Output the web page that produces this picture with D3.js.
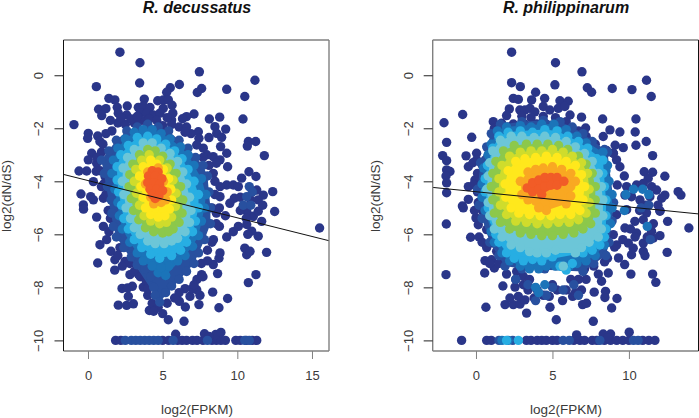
<!DOCTYPE html>
<html>
<head>
<meta charset="utf-8">
<script src="https://cdn.jsdelivr.net/npm/d3@7"></script>
<style>
  html, body { margin: 0; padding: 0; background: #fff; }
  svg { display: block; }
  text { font-family: "Liberation Sans", Arial, sans-serif; fill: #3a3a3a; }
</style>
</head>
<body>
<div id="chart"></div>
<script>
// density colour classes, low to high
const bandColors = ['#2a3689', '#28509f', '#1b74b9', '#27aee3', '#6cc6d8', '#8cc84b', '#cfdc2c', '#ffe81c', '#f9a822', '#f15c27'];
const xTicksLeft = [0, 5, 10, 15];
const xTicksRight = [0, 5, 10];
const yTicks = [0, -2, -4, -6, -8, -10];

// R. decussatus as [log2(FPKM), log2(dN/dS)]
const decNavy = [[2.14,.87],[3.48,.47],[7.46,.13],[11.18,-.19],[.56,-.43],[3.46,-.29],[6.12,-.35],[5.51,-.47],[5.27,-.64],[7.61,-.5],[7.32,-.65],[9.29,-.53],[10.5,-.8],[1.4,-.87],[1.8,-.93],[3.77,-.9],[4.67,-.96],[5.04,-.93],[5.38,-.93],[5.63,-1.13],[.71,-1.28],[1.2,-1.26],[.92,-1.52],[1.96,-1.21],[2.63,-1.16],[2.03,-1.43],[2.59,-1.5],[3.37,-1.21],[3.7,-1.16],[4.15,-1.21],[3.5,-1.41],[3.93,-1.43],[4.38,-1.5],[5.04,-1.25],[4.82,-1.43],[5.68,-1.43],[5.6,-1.69],[7.1,-1.46],[6.6,-1.56],[6.33,-1.64],[8.13,-1.65],[8.82,-1.58],[10.38,-1.65],[-.94,-1.86],[2.0,-1.8],[2.5,-1.85],[3.1,-1.8],[3.6,-1.7],[4.1,-1.65],[5,-1.9],[5.6,-1.85],[6.1,-1.95],[1.6,-2.1],
[7.39,-2.13],[7.43,-2.38],[8.5,-1.94],[9.22,-2.03],[8.62,-2.19],[8.95,-2.34],[10.74,-2.5],[11.23,-2.5],[10.67,-2.67],[8.88,-2.69],[11.81,-3.03],[9.29,-2.94],[8.39,-3.07],[7.95,-3],[9.35,-3.45],[8.84,-3.19],[10.78,-3.64],[11.25,-3.82],[10.29,-3.88],[9.29,-4.14],[9.73,-4.14],[10.07,-4.2],[12.37,-4.39],[11.74,-4.52],[11.3,-4.33],[9.8,-4.64],[9.5,-4.83],[8.84,-4.58],[8.84,-4.2],[8.39,-3.7],[8.6,-3.32],[7.72,-2.75],[7.28,-2.63],
[.02,-2.19],[-.02,-2.38],[.65,-2.29],[.8,-2.5],[.25,-2.94],[.02,-3.19],[-.6,-3.61],[-.09,-3.61],[.58,-3.32],[.36,-4.01],[-.47,-4.48],[.18,-4.58],[.36,-4.7],[1.03,-4.64],[-.31,-4.89],[1.14,-3.82],[.55,-3.62],[1.0,-2.6],[1.05,-4.1],
[15.51,-5.76],[11.96,-6.68],[12.5,-5.14],[.65,-7.08],[.8,-6.39],[1.79,-7.35],[10.74,-7.82],[11.25,-7.52],[2.03,-8.67],[2.59,-8.68],[3.04,-8.62],[2.28,-8.04],[2.97,-7.96],[2.7,-8.34],[2.65,-8.02],[8.35,-8.18],[9.35,-8.42],[8.77,-8.77],[7.43,-8.65],[6.52,-8.74],[6.12,-8.53],[4.11,-8.87],[5,-8.99],[5.38,-9.22],[6.43,-9.28],[3.7,-7.99],[7.5,-8.3],[7.28,-8.09],[6.83,-8.34],[8.68,-7.48],[8.39,-7.14],[8.77,-6.9],[8.84,-6.7],[10.63,-6.77],[10.5,-6.52],[10.85,-6.64],[9.29,-6.1],[9.73,-5.9],[10.07,-5.7],[11.4,-6.07],[10.96,-5.88],[10.63,-5.63],[11.07,-5.32],[11.63,-5.51],[10.63,-5.13],[11.4,-5.13],[9.2,-5.3],[8.8,-5.7],[1.03,-5.7],[.58,-5.35],[-.3,-5.05],[1.54,-6.64],[1.8,-6.96],[2.48,-7.02],[2.81,-7.52],[3.37,-7.5],[3.93,-7.46],[7.61,-7.52],[1.25,-6.2],[2.14,-6.5],[4.0,-8.3],[4.3,-8.6],[4.7,-8.75],[7.0,-8.05],[7.3,-7.7],[7.6,-7.1],[8,-6.6],[8.4,-6.2],[8.6,-5.2],
[1.85,-10],[2.2,-10],[5,-10],[5.4,-10],[6,-10],[6.3,-10],[6.6,-10],[7,-10],[7.3,-10],[7.7,-10],[8.3,-10],[8.6,-10],[8.9,-10],[9.2,-10],[9.9,-10],[10.2,-10],[10.6,-10],[11,-10],[11.3,-10],[5.87,-9.77],[7.8,-9.75],[8.55,-9.78],[8.9,-9.7],[8.1,-9.85]];
const decNavyMore = [[1.5,-1.7],[2.2,-1.6],[2.9,-1.65],[3.3,-1.55],[4.6,-1.7],[5.3,-1.6],[6.6,-1.95],[6.9,-2.2],[6.5,-2.15],[8.1,-2.35],[7.7,-3.1],[8.1,-3.4],[8.5,-4],[8.5,-4.5],[8.3,-5],[8.8,-5],[8.6,-5.6],[8.3,-6.3],[8,-7],[7.7,-7.6],[7.1,-7.9],[6.5,-8.05],[6.1,-8.2],[5.8,-8.4],[5.3,-8.6],[4.4,-8.9],[1.2,-2.2],[.9,-2.9],[.6,-3.1],[.8,-3.6],[.9,-4.2],[1.2,-4.5],[1.35,-5.1],[1.5,-5.4],[1.4,-5.9],[2,-6.8],[2.3,-7.2],[2.8,-7.1],[3.1,-7.4],[3.5,-7.6],[3.9,-7.75],[4,-8.05],[10.2,-4.6],[10.2,-5.1],[10.9,-4.7],[11.4,-4.7],[11.7,-4.9],[10.6,-5.4],[10.7,-6]];
const decBlue1Spots = [[10.8,-4.2],[10.63,-4.58],[11,-4.4],[10.4,-4.9],[10.9,-4.9],[2.5,-10],[2.9,-10],[3.2,-10],[3.5,-10],[3.8,-10],[4.1,-10],[4.4,-10],[4.7,-10],[5.7,-10],[8,-10],[10.5,-10],[10.8,-10]];
const decBlue1 = [[2.6,-2.1],[3.3,-1.95],[4,-1.85],[4.7,-1.95],[5.4,-2.1],[1.9,-2.45],[6.1,-2.45],[1.4,-2.85],[6.7,-2.75],[.9,-3.2],[7.2,-3.1],[1.1,-3.7],[1.3,-4.2],[1.55,-4.7],[1.6,-5.2],[1.7,-5.7],[1.9,-6.1],[2.4,-6.5],[2.9,-6.85],[3.3,-7.15],[3.8,-7.3],[4.2,-7.6],[4.4,-8],[4.5,-8.3],[4.8,-8.55],[5.2,-8.2],[5.6,-7.95],[6.1,-7.7],[6.6,-7.4],[7.1,-7.1],[7.4,-6.7],[7.8,-6.2],[8.2,-5.6],[8.2,-5],[8.1,-4.4],[8,-3.8],[7.7,-3.4]];
const decBlue2 = [[3.1,-2.15],[3.7,-2.05],[4.3,-2.05],[4.9,-2.2],[5.5,-2.4],[2.5,-2.4],[6.2,-2.7],[2,-2.75],[6.7,-3],[1.7,-3.2],[7.1,-3.4],[1.6,-3.7],[7.6,-3.9],[1.8,-4.3],[7.9,-4.5],[2,-4.8],[7.8,-5],[2.1,-5.3],[7.6,-5.5],[2.3,-5.8],[7.4,-6.05],[2.8,-6.3],[7,-6.45],[3.3,-6.7],[6.5,-6.8],[3.7,-7],[6,-7],[4.3,-7.2],[5.4,-7.2],[4.7,-7.45],[5.2,-7.55],[4.9,-7.25]];
const decCyan = [[3.3,-2.35],[4,-2.3],[4.6,-2.4],[5.2,-2.6],[2.7,-2.65],[5.8,-2.85],[2.2,-3],[6.3,-3.15],[1.95,-3.45],[6.7,-3.55],[1.95,-3.95],[7.1,-4],[2.05,-4.4],[7.4,-4.5],[2.25,-4.9],[7.4,-5],[2.4,-5.4],[7.2,-5.5],[2.7,-5.8],[7,-5.9],[3.1,-6.2],[6.6,-6.3],[3.6,-6.5],[6.2,-6.6],[4.2,-6.75],[5.6,-6.8],[4.8,-6.9]];
const decTeal = [[3.7,-2.55],[4.3,-2.55],[4.9,-2.75],[3.1,-2.8],[5.5,-2.95],[2.65,-3.1],[6,-3.25],[2.35,-3.5],[6.35,-3.65],[2.3,-4],[6.6,-4.1],[2.4,-4.5],[6.8,-4.6],[2.55,-5],[6.9,-5.1],[2.85,-5.4],[6.8,-5.55],[3.1,-5.75],[6.5,-5.9],[3.5,-6],[6,-6.15],[4,-6.25],[4.5,-6.35],[5.1,-6.35],[5.6,-6.25]];
const decGreen = [[4,-2.8],[4.5,-2.85],[3.45,-3],[5,-3.05],[3,-3.35],[5.5,-3.35],[2.8,-3.75],[5.9,-3.7],[2.75,-4.2],[6.2,-4.2],[2.9,-4.65],[6.35,-4.7],[3.05,-5.1],[6.3,-5.2],[3.4,-5.45],[6.1,-5.55],[3.85,-5.75],[5.7,-5.8],[4.4,-5.9],[5,-5.95],[5.4,-5.9]];
const decLime = [[4.1,-3],[3.6,-3.2],[4.8,-3.2],[3.2,-3.55],[5.3,-3.5],[3.1,-4],[5.7,-3.95],[3.25,-4.45],[5.9,-4.45],[3.45,-4.9],[5.85,-4.95],[3.75,-5.3],[5.6,-5.35],[4.2,-5.5],[4.8,-5.6],[5.25,-5.55]];
const decYellow = [[4.2,-3.2],[3.7,-3.45],[4.6,-3.35],[5.05,-3.55],[3.45,-3.8],[5.4,-3.9],[3.55,-4.2],[5.55,-4.3],[3.7,-4.6],[5.6,-4.7],[3.85,-5],[5.45,-5.05],[4.2,-5.25],[4.7,-5.35],[5.15,-5.3],[4.5,-5],[5,-5]];
const decOrange = [[4,-3.65],[3.85,-4.1],[5.05,-4],[5.3,-4.4],[5.2,-4.7],[4.9,-4.8],[4.4,-4.85],[4.2,-4.6],[4.7,-3.5]];
const decRed = [[4.3,-3.6],[4.7,-3.65],[4.05,-3.8],[4.5,-3.8],[4.95,-3.9],[4,-4.05],[4.4,-4.05],[4.8,-4.1],[4.15,-4.3],[4.6,-4.3],[5,-4.35],[4.3,-4.5],[4.75,-4.55],[4.5,-4.65]];
const decFit = [[-1.64,-3.74],[16.14,-6.24]];

// R. philippinarum
const phiNavy = [[2.33,.87],[5.2,.47],[6.93,.13],[11.15,-.19],[2.33,-.28],[2.9,-.43],[5.16,-.36],[7.28,-.47],[7.56,-.64],[8.91,-.5],[10.2,-.54],[11.46,-.8],[3.9,-.64],[2.44,-.87],[2.77,-.91],[3.64,-.93],[4.49,-.87],[5.49,-.96],[6.03,-.98],[2.18,-1.27],[2,-1.52],[-.87,-1.48],[-2.09,-1.79],[2.87,-1.31],[3.2,-1.31],[3.53,-1.25],[3.85,-1.38],[4.4,-1.18],[4.83,-1.31],[5.38,-1.25],[5.81,-1.18],[6.15,-1.5],[6.9,-1.58],[8.28,-1.65],[10.46,-1.65],[1.13,-1.75],[1.68,-1.81],[2.44,-1.84],[3.96,-1.84],[4.94,-1.88],[5.7,-1.81],[3,-1.55],[3.6,-1.6],[4.4,-1.55],[5.2,-1.6],[5.9,-1.75],
[7.17,-1.99],[8.76,-2.06],[9.41,-2.14],[10.41,-2.14],[8.32,-2.31],[-.28,-2.34],[-1.92,-2.53],[11.13,-2.5],[10.46,-2.64],[9.1,-2.64],[9.63,-2.73],[8.54,-2.84],[8.98,-2.94],[11.55,-3.03],[-2.18,-3.03],[-.65,-3.04],[.04,-2.94],[-1.92,-3.22],[.04,-3.19],[-.5,-3.45],[.44,-3.42],[-1.92,-3.57],[-1.7,-3.63],[-1.96,-3.8],[-1.92,-4.06],[-1.92,-4.43],
[-.5,-4.68],[.15,-4.8],[-.89,-4.93],[.59,-4.39],[-.07,-3.95],[.26,-3.95],[-.5,-4.2],[-.15,-4.13],[9.7,-3.8],[9.24,-4.14],[11,-3.64],[11.55,-3.66],[12.35,-3.81],[11.26,-3.89],[13.22,-4.39],[13.4,-4.52],[12.35,-4.52],[12.03,-5.11],[9.85,-4.2],[10.5,-4.14],[10.94,-4.08],[11.48,-4.2],[11.81,-4.33],[12.14,-4.64],[10.17,-4.58],[10.72,-4.7],[11.37,-4.58],[9.74,-4.52],[9.41,-3.45],[9.19,-3.19],[8.98,-2.94],
[-1.94,-5.61],[-1.96,-7.52],[-.35,-6.11],[.57,-7.46],[.65,-8.75],[1.76,-7.95],[2.55,-7.99],[1.9,-8.65],[2.44,-8.65],[2.88,-8.63],[2.22,-8.4],[2.77,-8.34],[3.2,-8.47],[3.31,-8.97],[4.84,-8.75],[5.25,-9.22],[7.67,-9.28],[6.97,-8.65],[7.23,-8.6],[8.87,-8.78],[9.22,-8.42],[8.47,-8.15],[8.43,-8.38],[7.73,-8.18],[6.32,-8.34],[5.66,-8.5],[4.79,-8.34],[10.13,-7.5],[11.55,-7.5],[11.76,-7.81],[12.5,-6.68],[12.53,-5.51],[13.92,-5.76],[9.06,-6.48],[9.32,-6.89],[9.72,-7.14],[8.41,-7.04],[8,-7.5],[8.21,-7.77],[8.65,-7.46],[9.96,-6.33],[10.28,-6.52],[10.17,-6.77],[10.94,-6.64],[11.05,-6.8],[10.94,-6.33],[11.48,-5.89],[12.03,-6.05],[11.59,-6.14],[9.74,-5.76],[10.39,-5.51],[10.94,-5.45],[11.15,-5.19],[12.03,-5.13],[10.5,-5.95],[8.98,-6.01],[9.19,-5.26],[9.85,-5.07],[1.13,-6.33],[.15,-5.64],[0,-5.38],[.7,-5.82],[1.35,-6.64],[.59,-6.99],[1.02,-6.96],[1.2,-7.27],[3.09,-7.58],[2.66,-7.4],[.44,-5.13],[-.83,-5],[3.4,-8.1],[3.8,-8.4],[6.9,-8.1],[7.2,-7.7],[6.7,-7.7],[5.9,-8.1],
[-.94,-10],[.7,-10],[1,-10],[3.3,-10],[3.6,-10],[4,-10],[4.3,-10],[4.6,-10],[5,-10],[5.3,-10],[6.4,-10],[6.8,-10],[7.1,-10],[7.6,-10],[7.9,-10],[8.4,-10],[8.8,-10],[9.2,-10],[9.6,-10],[10,-10],[10.9,-10],[11.3,-10],[11.7,-10],[6.58,-9.79],[8.32,-9.76],[8.8,-9.76],[10.02,-9.69],[8.6,-9.9]];
const phiNavyMore = [[1.2,-2],[1.5,-2.05],[2.1,-1.95],[3.2,-1.85],[4.6,-1.85],[5.5,-2],[6.1,-2.1],[6.7,-2.1],[7.2,-2.3],[7.8,-2.6],[8.3,-3.2],[2,-7.5],[2.6,-7.7],[3.1,-7.9],[3.5,-7.7],[4,-8.1],[4.4,-8.3],[5,-7.9],[5.3,-8.1],[6.2,-7.7],[6.5,-8.2],[7.1,-7.3],[7.7,-7.2],[8.6,-6.9],[9.2,-6.4],[10.1,-5.8],[10.7,-5.1],[11.2,-6.1],[11.6,-5.6],[10.4,-6.1],[11.9,-4.9],[11.1,-4.9],[9.6,-6.2],[.2,-6.1],[.4,-6.3],[.7,-6.5],[1.5,-7.1],[.9,-7.1],[-.1,-5.1],[.5,-4.7],[.1,-4.4],[.3,-3.9],[-.2,-3.3],[.1,-3.7],[.6,-3.2]];
const phiBlue1Spots = [[10.8,-5],[11.3,-4.9],[11.4,-6.2],[6.4,-7.9],[6.7,-8.3],[5.7,-8.1],[5,-8],[4.6,-8.3],[3.9,-8.5],[3.4,-7.9],[2.6,-7.7],[1.5,-10],[2.4,-10],[5.7,-10],[6.1,-10],[8.1,-10],[10.3,-10],[10.6,-10]];
const phiBlue2Spots = [[3.9,-8],[4.5,-7.9],[4.1,-8.2],[10.3,-4.3],[10.9,-4.3],[11.3,-4.5],[9.8,-4.5],[9.7,-5.1],[11.2,-5.7],[1.7,-10],[2.1,-10]];
const phiCyanSpots = [[2,-10],[2.77,-10]];
const phiCyanLobe = [[5.5,-7.2],[5.9,-7.35],[6.3,-7.1]];
const phiTealLobe = [[5.71,-7.2]];
const phiBlue1 = [[1.6,-1.85],[3,-1.75],[4.4,-1.7],[5.5,-1.75],[6.3,-1.95],[7,-2.2],[7.6,-2.5],[8.4,-2.8],[8.6,-2.9],[1,-2.2],[.7,-2.7],[.3,-3.3],[.1,-4.3],[.2,-4.9],[.4,-5.4],[9,-4.8],[8.9,-5.5],[8.7,-6.3],[8.5,-6.8],[7.7,-7.1],[7,-7.4],[.9,-6.3],[1.5,-6.8],[1.9,-7.2],[3,-7.3],[4.5,-7.3],[6,-7.2]];
const phiBlue2 = [[1.4,-2.1],[2,-1.95],[2.9,-1.9],[3.6,-1.95],[4.3,-1.85],[5.1,-1.85],[5.9,-2.05],[6.6,-2.3],[7.2,-2.55],[7.8,-2.95],[8.3,-2.9],[8.6,-3.4],[8.5,-3.6],[1,-2.6],[.8,-3],[.5,-3.5],[.4,-4.1],[.4,-4.6],[8.7,-4],[8.9,-4.5],[8.9,-5],[8.8,-5.6],[.6,-5.1],[1,-5.9],[1.2,-6.3],[1.7,-6.7],[2.2,-7],[2.9,-7.2],[3.5,-7.3],[4.1,-7.3],[4.6,-7.2],[5.2,-7.2],[5.6,-7.2],[6.1,-7.2],[6.6,-7.1],[7.2,-7],[7.8,-6.8],[8.4,-6.4]];
const phiCyan = [[1.5,-2.3],[2.1,-2.15],[2.9,-2.1],[3.7,-2.15],[4.5,-2.05],[5.3,-2.1],[6,-2.3],[6.7,-2.5],[7.3,-2.75],[7.9,-3.15],[8.3,-3.2],[1.1,-2.75],[.75,-3.4],[8.3,-3.7],[.6,-3.9],[8.4,-4.2],[.6,-4.4],[8.5,-4.7],[.8,-5],[8.5,-5.3],[1.2,-5.5],[8.5,-5.8],[1.3,-6],[8.4,-6.1],[1.5,-6.3],[8.1,-6.4],[2,-6.7],[7.6,-6.6],[2.5,-6.9],[7,-6.7],[3.1,-7],[3.7,-6.95],[4.3,-7],[5,-6.85]];
const phiTeal = [[1.6,-2.45],[2.3,-2.3],[3,-2.3],[3.8,-2.35],[4.5,-2.3],[5.2,-2.35],[5.9,-2.5],[6.5,-2.7],[7.1,-2.95],[1.1,-2.85],[7.6,-3.25],[.9,-3.3],[8,-3.7],[.8,-3.8],[8.2,-4.2],[.7,-4.3],[8.3,-4.7],[.8,-4.8],[8.3,-5.3],[.9,-5.3],[8.2,-5.8],[1.2,-5.8],[8,-6.1],[1.7,-6.1],[7.4,-6.3],[2.3,-6.4],[6.9,-6.5],[2.9,-6.5],[3.5,-6.65],[4,-6.7],[4.6,-6.7],[5.2,-6.6],[6.5,-6.7]];
const phiGreen = [[1.8,-2.85],[2.5,-2.65],[3.3,-2.6],[4,-2.6],[4.7,-2.6],[5.4,-2.65],[6,-2.8],[6.7,-3.05],[7.2,-3.35],[1.3,-3.25],[7.6,-3.7],[1.1,-3.7],[7.8,-4.2],[1,-4.2],[7.8,-4.7],[1.1,-4.7],[7.8,-5.2],[1.2,-5.2],[7.5,-5.6],[1.6,-5.55],[2.2,-5.8],[7,-5.8],[2.9,-5.95],[3.6,-6],[4.3,-6.05],[5,-6.05],[5.7,-6],[6.4,-5.95]];
const phiLime = [[2.2,-3.05],[2.9,-2.9],[3.6,-2.85],[4.3,-2.85],[5,-2.8],[5.7,-2.9],[6.3,-3.05],[6.9,-3.3],[1.7,-3.4],[7.3,-3.7],[1.5,-3.9],[7.4,-4.3],[1.5,-4.4],[7.4,-4.8],[1.6,-4.9],[7.2,-5.2],[2,-5.25],[6.7,-5.45],[2.6,-5.5],[3.3,-5.55],[4,-5.6],[4.7,-5.6],[5.4,-5.55],[6.1,-5.55]];
const phiYellow = [[2.6,-3.25],[3.2,-3.15],[3.9,-3.1],[4.6,-3.05],[5.3,-3.1],[5.9,-3.25],[6.5,-3.4],[2.1,-3.6],[6.9,-3.75],[1.9,-4.1],[7.1,-4.2],[1.95,-4.6],[7,-4.7],[2.3,-5],[6.8,-5.1],[2.8,-5.2],[3.5,-5.25],[4.2,-5.3],[4.9,-5.3],[5.5,-5.25],[6.2,-5.25]];
const phiOrange = [[2.9,-4],[3,-4.5],[3.4,-3.65],[3.4,-4.7],[3.9,-3.55],[3.9,-4.75],[4.4,-3.5],[4.5,-4.8],[5,-3.45],[5,-4.6],[5.6,-3.55],[5.5,-4.5],[6.2,-3.7],[6.2,-4.2],[6.5,-4],[6.2,-4.55],[5.9,-4.85],[4.6,-5.1],[4.1,-5]];
const phiRed = [[3.35,-4.25],[3.7,-4.05],[3.7,-4.4],[4.1,-3.95],[4.1,-4.3],[4.5,-3.85],[4.5,-4.2],[4.9,-3.85],[4.9,-4.15],[5.3,-3.85],[5.3,-4.15],[5.75,-4],[4.3,-4.5]];
const phiFit = [[-2.83,-4.23],[14.55,-5.23]];

const decBands = [[], decBlue1, decBlue2, decCyan, decTeal, decGreen, decLime, decYellow, decOrange, decRed];
const phiBands = [[], phiBlue1, phiBlue2, phiCyan, phiTeal, phiGreen, phiLime, phiYellow, phiOrange, phiRed];
// loose points outside the main blob: [points, colour class]
const decSpots = [[decNavy, 0], [decNavyMore, 0], [decBlue1Spots, 1]];
const phiSpots = [[phiNavy, 0], [phiNavyMore, 0], [phiBlue1Spots, 1], [phiBlue2Spots, 2], [phiCyanSpots, 3]];
// lobes below the blob, drawn after the bands
const phiLobes = [[phiCyanLobe, 3], [phiTealLobe, 4]];

const width = 699, height = 418;
const pointRadius = 4.7;
const svg = d3.select('#chart').append('svg').attr('width', width).attr('height', height);

function drawPanel(opts) {
  const x = d3.scaleLinear().domain(opts.xDomain).range([opts.left, opts.right]);
  const y = d3.scaleLinear().domain([-10.4, 1.33]).range([351, 40]);
  const g = svg.append('g');
  const dots = (pts, col) => g.append('g').selectAll('circle').data(pts).join('circle')
    .attr('cx', d => x(d[0]))
    .attr('cy', d => y(d[1]))
    .attr('r', pointRadius)
    .attr('fill', col);

  opts.spots.forEach(s => dots(s[0], bandColors[s[1]]));

  // each band is a ring of outer points, the hull closes the gaps inside it
  opts.bands.forEach((pts, i) => {
    if (!pts.length) return;
    const hull = d3.polygonHull(pts.map(d => [x(d[0]), y(d[1])]));
    g.append('path')
      .attr('d', 'M' + hull.join('L') + 'Z')
      .attr('fill', bandColors[i]);
    dots(pts, bandColors[i]);
  });

  (opts.lobes || []).forEach(s => dots(s[0], bandColors[s[1]]));

  g.append('line')
    .attr('x1', x(opts.fit[0][0])).attr('y1', y(opts.fit[0][1]))
    .attr('x2', x(opts.fit[1][0])).attr('y2', y(opts.fit[1][1]))
    .attr('stroke', '#111').attr('stroke-width', 1);

  // box: the scan leaves some sides grey and one side thin black
  const gray = '#808080';
  const side = (x1, y1, x2, y2, col, w) => g.append('line')
    .attr('x1', x1).attr('y1', y1).attr('x2', x2).attr('y2', y2)
    .attr('stroke', col).attr('stroke-width', w);
  side(opts.left, 40, opts.right, 40, gray, 1.4);
  side(opts.left, 351, opts.right, 351, gray, 1.4);
  side(opts.left, 40, opts.left, 351, opts.leftCol, opts.leftCol === gray ? 1.4 : 1);
  side(opts.right, 40, opts.right, 351, opts.rightCol, opts.rightCol === gray ? 1.4 : 1);

  const xAxis = g.append('g').attr('transform', 'translate(0,351)')
    .call(d3.axisBottom(x).tickValues(opts.xTicks).tickSize(8).tickPadding(12));
  xAxis.select('.domain').remove();
  xAxis.selectAll('line').attr('stroke', gray);
  xAxis.selectAll('text').style('font-size', '13px').style('fill', '#3a3a3a');

  const yAxis = g.append('g').attr('transform', `translate(${opts.left},0)`)
    .call(d3.axisLeft(y).tickValues(yTicks).tickSize(9));
  yAxis.select('.domain').remove();
  yAxis.selectAll('line').attr('stroke', '#222');
  // rotated like R's default axis labels; each text sits inside its tick group
  yAxis.selectAll('text')
    .style('font-size', '13px').style('fill', '#3a3a3a')
    .attr('x', 0).attr('dy', 0)
    .attr('text-anchor', 'middle')
    .attr('transform', `translate(${opts.yTickX - opts.left},0) rotate(-90)`);

  g.append('text').attr('x', opts.titleX).attr('y', 13)
    .attr('text-anchor', 'middle')
    .style('font-size', '16px').style('font-weight', 'bold').style('font-style', 'italic')
    .style('fill', '#111')
    .text(opts.title);
  g.append('text').attr('x', opts.titleX).attr('y', 414)
    .attr('text-anchor', 'middle').style('font-size', '13.5px')
    .text('log2(FPKM)');
  g.append('text')
    .attr('transform', `translate(${opts.yLabelX},196) rotate(-90)`)
    .attr('text-anchor', 'middle').style('font-size', '13.5px')
    .text('log2(dN/dS)');
}

drawPanel({
  title: 'R. decussatus', titleX: 197, bands: decBands, spots: decSpots, fit: decFit,
  xDomain: [-1.64, 16.14], left: 63.5, right: 329, xTicks: xTicksLeft,
  leftCol: '#111', rightCol: '#808080', yTickX: 43.4, yLabelX: 11
});
drawPanel({
  title: 'R. philippinarum', titleX: 566, bands: phiBands, spots: phiSpots, lobes: phiLobes, fit: phiFit,
  xDomain: [-2.83, 14.55], left: 432.7, right: 698.5, xTicks: xTicksRight,
  leftCol: '#808080', rightCol: '#111', yTickX: 412.7, yLabelX: 379.5
});
</script>
</body>
</html>
